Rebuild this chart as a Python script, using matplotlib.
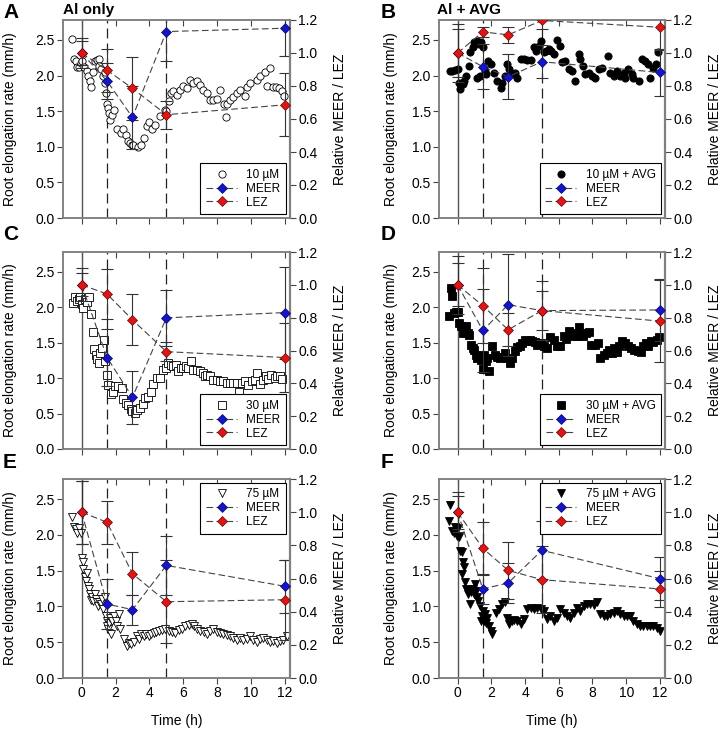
import matplotlib
matplotlib.use("Agg")
import matplotlib.pyplot as plt
from matplotlib.lines import Line2D

plt.rcParams['font.family'] = ['Liberation Sans', 'DejaVu Sans']

# sampling times for MEER / LEZ (h)
hours = [0, 1.5, 3, 5, 12]

# ---- A: 10 uM Al ----
a_t = [-0.59, -0.45, -0.35, -0.25, -0.15, -0.05, 0.05, 0.15, 0.3, 0.4, 0.5, 0.55,
       0.7, 0.8, 0.9, 1.0, 1.05, 1.15, 1.25, 1.35, 1.4, 1.45, 1.5, 1.55, 1.6, 1.7,
       1.8, 1.9, 2.1, 2.3, 2.45, 2.6, 2.75, 2.85, 2.95, 3.05, 3.3, 3.5, 3.7, 3.85,
       4.0, 4.15, 4.35, 4.6, 4.92, 5.0, 5.17, 5.27, 5.41, 5.6, 5.8, 6.0, 6.2, 6.39,
       6.59, 6.79, 6.98, 7.18, 7.38, 7.57, 7.77, 7.97, 8.16, 8.4, 8.52, 8.6, 8.75,
       8.95, 9.15, 9.34, 9.64, 9.74, 9.94, 10.33, 10.53, 10.82, 10.92, 11.1, 11.31,
       11.5, 11.67, 11.8, 11.94]
a_rate = [2.51, 2.23, 2.20, 2.12, 2.12, 2.17, 2.20, 2.12, 2.06, 2.00, 1.93, 1.84,
          2.05, 2.20, 2.22, 2.23, 2.13, 2.09, 2.00, 1.90, 2.05, 1.75, 1.60, 1.55, 1.48, 1.38,
          1.45, 1.52, 1.25, 1.20, 1.25, 1.17, 1.08, 1.05, 1.02, 1.03, 1.00, 1.02, 1.12, 1.29,
          1.35, 1.25, 1.30, 1.43, 1.52, 1.50, 1.64, 1.76, 1.78, 1.73, 1.80, 1.85, 1.82, 1.94,
          1.89, 1.92, 1.87, 1.80, 1.75, 1.66, 1.66, 1.67, 1.80, 1.60, 1.42, 1.60, 1.66,
          1.70, 1.75, 1.80, 1.71, 1.84, 1.89, 1.94, 2.00, 2.05, 1.85, 2.10, 1.84,
          1.84, 1.82, 1.78, 1.71]
a_meer = [1.0, 0.83, 0.61, 1.13, 1.15]
a_meer_err = [0.09, 0.11, 0.19, 0.18, 0.17]
a_lez = [1.0, 0.896, 0.786, 0.626, 0.686]
a_lez_err = [0.07, 0.13, 0.19, 0.085, 0.19]

# ---- B: 10 uM Al + AVG ----
b_t = [-0.45, -0.3, -0.14, 0.0, 0.1, 0.16, 0.3, 0.4, 0.5, 0.65, 0.75, 0.9, 1.0, 1.14,
       1.18, 1.28, 1.35, 1.4, 1.5, 1.6, 1.67, 1.82, 1.97, 2.16, 2.36, 2.56, 2.66, 2.81,
       2.95, 3.05, 3.25, 3.4, 3.55, 3.74, 3.94, 4.13, 4.33, 4.52, 4.66, 4.82, 4.96, 5.11,
       5.25, 5.41, 5.57, 5.7, 5.9, 6.1, 6.2, 6.39, 6.59, 6.79, 6.98, 7.18, 7.28, 7.42,
       7.57, 7.77, 7.97, 8.16, 8.36, 8.56, 8.9, 9.05, 9.25, 9.44, 9.64, 9.84, 9.94, 10.13,
       10.33, 10.43, 10.76, 10.92, 11.12, 11.27, 11.41, 11.6, 11.75, 11.9]
b_rate = [2.06, 2.07, 2.08, 2.09, 1.90, 1.81, 1.88, 1.93, 2.00, 2.14, 2.33, 2.40, 2.47, 2.49,
          1.97, 2.44, 2.00, 2.47, 2.40, 2.07, 2.02, 2.21, 2.16, 2.04, 1.93, 1.82, 1.90, 2.00,
          2.16, 2.09, 2.02, 2.04, 1.96, 2.23, 2.23, 2.22, 2.22, 2.40, 2.35, 2.42, 2.49, 2.33,
          2.35, 2.37, 2.35, 2.30, 2.50, 2.42, 2.19, 2.21, 2.09, 2.07, 1.93, 2.30, 2.23, 2.14,
          2.02, 2.04, 2.00, 1.97, 2.09, 2.11, 2.27, 2.04, 2.00, 2.07, 2.00, 2.04, 1.97, 2.09,
          2.02, 1.97, 1.93, 2.23, 2.21, 2.16, 1.97, 2.11, 2.16, 2.33]
b_meer = [1.0, 0.917, 0.856, 0.947, 0.882]
b_meer_err = [0.146, 0.136, 0.135, 0.10, 0.14]
b_lez = [1.0, 1.128, 1.11, 1.197, 1.156]
b_lez_err = [0.176, 0.03, 0.05, 0.05, 0.14]

# ---- C: 30 uM Al ----
c_t = [-0.53, -0.39, -0.3, -0.18, -0.1, 0.0, 0.1, 0.2, 0.33, 0.45, 0.53, 0.65, 0.73, 0.85,
       0.92, 1.0, 1.08, 1.18, 1.32, 1.38, 1.48, 1.57, 1.71, 1.83, 1.97, 2.16, 2.36, 2.46,
       2.62, 2.76, 2.89, 3.0, 3.15, 3.28, 3.44, 3.6, 3.74, 3.9, 4.07, 4.23, 4.43, 4.62,
       4.82, 4.96, 5.11, 5.25, 5.41, 5.57, 5.7, 5.84, 6.0, 6.16, 6.3, 6.43, 6.59, 6.79,
       6.98, 7.14, 7.28, 7.41, 7.57, 7.77, 7.97, 8.16, 8.36, 8.56, 8.75, 8.95, 9.15, 9.3,
       9.44, 9.64, 9.84, 10.03, 10.23, 10.36, 10.52, 10.72, 10.87, 11.0, 11.2, 11.4, 11.54,
       11.7, 11.85]
c_rate = [2.06, 2.15, 2.09, 2.11, 2.15, 2.04, 1.99, 2.12, 2.07, 2.15, 1.90, 1.65, 1.41, 1.33,
          1.27, 1.21, 1.36, 1.43, 1.54, 1.24, 1.04, 0.91, 0.77, 0.81, 0.89, 0.89, 0.86, 0.71,
          0.65, 0.62, 0.56, 0.53, 0.51, 0.55, 0.58, 0.63, 0.72, 0.73, 0.81, 0.92, 1.00, 1.00,
          1.12, 1.14, 1.22, 1.18, 1.17, 1.19, 1.10, 1.14, 1.14, 1.17, 1.14, 1.24, 1.12, 1.12,
          1.10, 1.07, 1.03, 1.05, 1.03, 0.98, 0.98, 0.96, 0.96, 0.93, 0.93, 0.93, 0.93, 0.81,
          0.93, 0.96, 0.91, 0.96, 0.98, 1.07, 0.92, 0.98, 1.03, 0.99, 1.04, 1.00, 1.03,
          1.03, 0.99]
c_meer = [1.0, 0.557, 0.315, 0.799, 0.831]
c_meer_err = [0.10, 0.175, 0.16, 0.17, 0.28]
c_lez = [1.0, 0.944, 0.787, 0.593, 0.557]
c_lez_err = [0.07, 0.15, 0.155, 0.06, 0.21]

# ---- D: 30 uM Al + AVG ----
d_t = [-0.53, -0.39, -0.3, -0.2, -0.1, 0.0, 0.1, 0.2, 0.3, 0.39, 0.49, 0.59, 0.69, 0.79,
       0.89, 0.98, 1.08, 1.18, 1.28, 1.38, 1.48, 1.57, 1.67, 1.77, 1.87, 2.07, 2.22, 2.36,
       2.5, 2.66, 2.81, 2.95, 3.09, 3.25, 3.4, 3.54, 3.68, 3.84, 4.0, 4.13, 4.27, 4.43,
       4.58, 4.72, 4.92, 5.12, 5.31, 5.51, 5.7, 5.9, 6.1, 6.3, 6.44, 6.59, 6.75, 6.89,
       7.08, 7.18, 7.28, 7.42, 7.61, 7.77, 7.93, 8.12, 8.32, 8.46, 8.66, 8.85, 8.99, 9.15,
       9.3, 9.44, 9.58, 9.74, 9.93, 10.13, 10.29, 10.49, 10.68, 10.88, 11.02, 11.15, 11.3,
       11.46, 11.6, 11.8, 11.94]
d_rate = [1.88, 2.27, 2.16, 1.92, 1.94, 1.93, 1.78, 1.74, 1.63, 1.70, 1.73, 1.63, 1.61, 1.47,
          1.43, 1.40, 1.33, 1.29, 1.30, 1.25, 1.13, 1.33, 1.24, 1.29, 1.10, 1.45, 1.32, 1.30,
          1.29, 1.30, 1.36, 1.29, 1.22, 1.29, 1.38, 1.44, 1.46, 1.50, 1.54, 1.53, 1.54, 1.52,
          1.51, 1.47, 1.49, 1.45, 1.43, 1.58, 1.54, 1.45, 1.45, 1.59, 1.55, 1.66, 1.64, 1.60,
          1.60, 1.72, 1.63, 1.60, 1.63, 1.65, 1.47, 1.47, 1.49, 1.29, 1.33, 1.36, 1.40, 1.36,
          1.43, 1.37, 1.45, 1.52, 1.50, 1.45, 1.43, 1.40, 1.38, 1.37, 1.45, 1.49, 1.46,
          1.52, 1.51, 1.54, 1.58]
d_meer = [1.0, 0.722, 0.879, 0.843, 0.847]
d_meer_err = [0.13, 0.25, 0.31, 0.18, 0.19]
d_lez = [1.0, 0.873, 0.726, 0.843, 0.779]
d_lez_err = [0.176, 0.23, 0.10, 0.12, 0.25]

# ---- E: 75 uM Al ----
e_t = [-0.55, -0.45, -0.35, -0.25, -0.16, -0.06, 0.0, 0.06, 0.1, 0.18, 0.24, 0.29, 0.37,
       0.43, 0.49, 0.53, 0.63, 0.69, 0.76, 0.82, 0.92, 0.96, 1.04, 1.12, 1.22, 1.27, 1.35,
       1.41, 1.47, 1.51, 1.55, 1.61, 1.67, 1.75, 1.8, 1.9, 2.0, 2.1, 2.2, 2.29, 2.49, 2.65,
       2.78, 2.92, 3.08, 3.24, 3.37, 3.51, 3.67, 3.82, 3.96, 4.1, 4.25, 4.41, 4.55, 4.75,
       4.94, 5.14, 5.33, 5.53, 5.73, 5.92, 6.12, 6.31, 6.51, 6.65, 6.8, 7.0, 7.2, 7.39,
       7.59, 7.78, 7.98, 8.18, 8.37, 8.57, 8.76, 8.96, 9.16, 9.35, 9.55, 9.75, 9.94, 10.14,
       10.33, 10.53, 10.73, 10.92, 11.12, 11.31, 11.51, 11.71, 11.9, 12.1]
e_rate = [2.25, 2.11, 2.08, 2.02, 2.10, 2.02, 1.67, 1.62, 1.52, 1.41, 1.36, 1.47, 1.29,
          1.24, 1.17, 1.09, 1.13, 1.08, 1.17, 1.10, 1.06, 1.01, 1.06, 1.03, 1.10, 0.96, 1.13,
          0.87, 0.80, 0.73, 0.68, 0.77, 0.84, 0.61, 0.80, 0.87, 0.80, 0.73, 0.89, 0.69, 0.54, 0.45,
          0.49, 0.47, 0.50, 0.59, 0.55, 0.61, 0.59, 0.61, 0.59, 0.62, 0.63, 0.64, 0.66, 0.67,
          0.69, 0.66, 0.64, 0.63, 0.67, 0.69, 0.73, 0.74, 0.75, 0.73, 0.69, 0.66, 0.64, 0.62,
          0.66, 0.68, 0.64, 0.63, 0.61, 0.60, 0.59, 0.56, 0.53, 0.56, 0.53, 0.55, 0.59, 0.53,
          0.50, 0.54, 0.56, 0.53, 0.50, 0.52, 0.49, 0.52, 0.53, 0.59]
e_meer = [1.0, 0.446, 0.412, 0.679, 0.553]
e_meer_err = [0.19, 0.15, 0.09, 0.18, 0.16]
e_lez = [1.0, 0.939, 0.629, 0.46, 0.472]
e_lez_err = [0.19, 0.13, 0.13, 0.25, 0.24]

# ---- F: 75 uM Al + AVG ----
f_t = [-0.53, -0.43, -0.33, -0.24, -0.14, -0.04, 0.02, 0.1, 0.16, 0.26, 0.26, 0.3, 0.39,
       0.45, 0.53, 0.59, 0.65, 0.73, 0.79, 0.89, 0.98, 1.04, 1.12, 1.18, 1.24, 1.32, 1.38,
       1.44, 1.51, 1.57, 1.63, 1.71, 1.77, 1.87, 1.97, 2.07, 2.26, 2.46, 2.66, 2.81, 2.95,
       3.05, 3.21, 3.34, 3.54, 3.74, 3.93, 4.13, 4.33, 4.52, 4.72, 4.92, 5.11, 5.31, 5.51,
       5.7, 5.9, 6.1, 6.3, 6.49, 6.69, 6.89, 7.08, 7.28, 7.48, 7.67, 7.87, 8.07, 8.26, 8.46,
       8.66, 8.85, 9.05, 9.25, 9.44, 9.64, 9.84, 10.03, 10.23, 10.43, 10.62, 10.82, 11.02,
       11.21, 11.41, 11.6, 11.8, 12.0]
f_rate = [2.20, 2.41, 2.06, 2.03, 2.11, 1.99, 2.09, 1.97, 1.78, 1.76, 1.45, 1.62, 1.55,
          1.34, 1.24, 1.17, 1.22, 1.03, 1.20, 1.24, 1.17, 1.31, 1.22, 1.13, 1.08, 1.01, 0.80,
          0.87, 0.94, 0.80, 0.89, 0.77, 0.84, 0.73, 0.66, 0.61, 0.91, 0.96, 1.03, 1.06, 0.84,
          0.75, 0.80, 0.81, 0.80, 0.76, 0.82, 0.96, 0.98, 0.96, 0.98, 0.96, 0.94, 0.82, 0.87,
          0.80, 0.84, 0.97, 0.91, 0.87, 0.84, 0.91, 0.98, 0.94, 1.01, 1.03, 1.03, 1.02, 1.06, 0.89,
          0.87, 0.87, 0.89, 0.91, 0.94, 0.89, 0.87, 0.87, 0.87, 0.80, 0.76, 0.73, 0.73,
          0.73, 0.72, 0.73, 0.70, 0.66]
f_meer = [1.0, 0.537, 0.573, 0.77, 0.599]
f_meer_err = [0.12, 0.09, 0.12, 0.175, 0.13]
f_lez = [1.0, 0.782, 0.649, 0.593, 0.537]
f_lez_err = [0.10, 0.16, 0.17, 0.20, 0.11]

panels = [
    ("A", a_t, a_rate, a_meer, a_meer_err, a_lez, a_lez_err, "o", False, "10 µM"),
    ("B", b_t, b_rate, b_meer, b_meer_err, b_lez, b_lez_err, "o", True, "10 µM + AVG"),
    ("C", c_t, c_rate, c_meer, c_meer_err, c_lez, c_lez_err, "s", False, "30 µM"),
    ("D", d_t, d_rate, d_meer, d_meer_err, d_lez, d_lez_err, "s", True, "30 µM + AVG"),
    ("E", e_t, e_rate, e_meer, e_meer_err, e_lez, e_lez_err, "v", False, "75 µM"),
    ("F", f_t, f_rate, f_meer, f_meer_err, f_lez, f_lez_err, "v", True, "75 µM + AVG"),
]

W, H = 722, 735
fig = plt.figure(figsize=(W / 100, H / 100), dpi=100)

col_x = [(63, 290), (439, 665)]
row_y = [(20, 218), (252, 449), (479, 678)]
SPINE = "#808080"
BLUE = "#1414c8"
RED = "#e01414"

for i, (letter, t, rate, meer, meer_err, lez, lez_err, mk, filled, lab) in enumerate(panels):
    row, col = divmod(i, 2)
    x0, x1 = col_x[col]
    y0, y1 = row_y[row]
    ax = fig.add_axes([x0 / W, 1 - y1 / H, (x1 - x0) / W, (y1 - y0) / H])
    ax2 = ax.twinx()

    ax.set_xlim(-1.1, 12.3)
    ax.set_ylim(0, 2.78)
    ax2.set_ylim(0, 1.2)
    ax.set_xticks([0, 2, 4, 6, 8, 10, 12])
    ax.set_yticks([0, 0.5, 1.0, 1.5, 2.0, 2.5])
    ax2.set_yticks([0, 0.2, 0.4, 0.6, 0.8, 1.0, 1.2])
    ax.yaxis.set_major_formatter(plt.FormatStrFormatter("%.1f"))
    ax2.yaxis.set_major_formatter(plt.FormatStrFormatter("%.1f"))

    ax.axvline(0, color="#555555", lw=1.0, zorder=1)
    for tv in (1.5, 5):
        ax.axvline(tv, color="#222222", lw=0.9, ls=(0, (8, 4)), zorder=1)

    face = "black" if filled else "white"
    ax.plot(t, rate, ls="none", marker=mk, ms=5.2, mfc=face, mec="black", mew=0.6, zorder=3)

    for vals, errs in ((meer, meer_err), (lez, lez_err)):
        ax2.errorbar(hours, vals, yerr=errs, fmt="none", ecolor="#333333",
                     elinewidth=0.8, capsize=4, capthick=0.8, zorder=2)
    ax2.plot(hours, meer, ls=(0, (6, 3)), color="#444444", lw=0.8,
             marker="D", ms=5.5, mfc=BLUE, mec="#0a0a60", mew=0.5, zorder=4)
    ax2.plot(hours, lez, ls=(0, (6, 3)), color="#444444", lw=0.8,
             marker="D", ms=5.5, mfc=RED, mec="#600a0a", mew=0.5, zorder=5)

    for a in (ax, ax2):
        for s in a.spines.values():
            s.set_color(SPINE)
            s.set_linewidth(1.1)
    ax2.spines["right"].set_linewidth(1.6)

    ax.tick_params(axis="both", direction="out", length=4, width=0.8, color="#444444",
                   labelsize=10, pad=2)
    ax2.tick_params(axis="y", direction="out", length=4, width=0.8, color="#444444",
                    labelsize=10, pad=2)
    top = ax.secondary_xaxis("top")
    top.set_xticks([0, 2, 4, 6, 8, 10, 12])
    top.tick_params(direction="in", length=4, width=0.8, color="#444444", labeltop=False)
    top.spines["top"].set_visible(False)

    if row < 2:
        ax.tick_params(axis="x", labelbottom=False)
    else:
        ax.set_xlabel("Time (h)", fontsize=10, labelpad=10)

    ax.set_ylabel("Root elongation rate (mm/h)", fontsize=10)
    ax2.set_ylabel("Relative MEER / LEZ", fontsize=10, rotation=90)
    if col == 0:
        ax.yaxis.set_label_coords(-0.203, 0.5)
        ax2.yaxis.set_label_coords(1.189, 0.5)
    else:
        ax.yaxis.set_label_coords(-0.181, 0.5)
        ax2.yaxis.set_label_coords(1.19, 0.5)

    handles = [
        Line2D([], [], ls="none", marker=mk, ms=5.2, mfc=face, mec="black", mew=0.6),
        Line2D([], [], ls=(0, (6, 3)), color="#444444", lw=0.8, marker="D", ms=5.5,
               mfc=BLUE, mec="#0a0a60", mew=0.5),
        Line2D([], [], ls=(0, (6, 3)), color="#444444", lw=0.8, marker="D", ms=5.5,
               mfc=RED, mec="#600a0a", mew=0.5),
    ]
    loc = "upper right" if row == 2 else "lower right"
    leg = ax2.legend(handles, [lab, "MEER", "LEZ"], loc=loc, fontsize=8.5, frameon=True,
                     fancybox=False, framealpha=1, edgecolor="black", handlelength=2.6,
                     borderaxespad=0.3, labelspacing=0.15, handletextpad=0.8,
                     borderpad=0.5)
    leg.get_frame().set_linewidth(0.8)
    leg.set_zorder(10)

    lx = 3 if col == 0 else 381
    fig.text(lx / W, 1 - (13 + y0 - 20 if row == 0 else y0 - 17) / H, letter,
             fontsize=15, fontweight="bold", va="center", ha="left")

fig.text(63 / W, 1 - 10 / H, "Al only", fontsize=11, fontweight="bold", va="center")
fig.text(437 / W, 1 - 10 / H, "Al + AVG", fontsize=11, fontweight="bold", va="center")

fig.savefig("out.png", dpi=100)
